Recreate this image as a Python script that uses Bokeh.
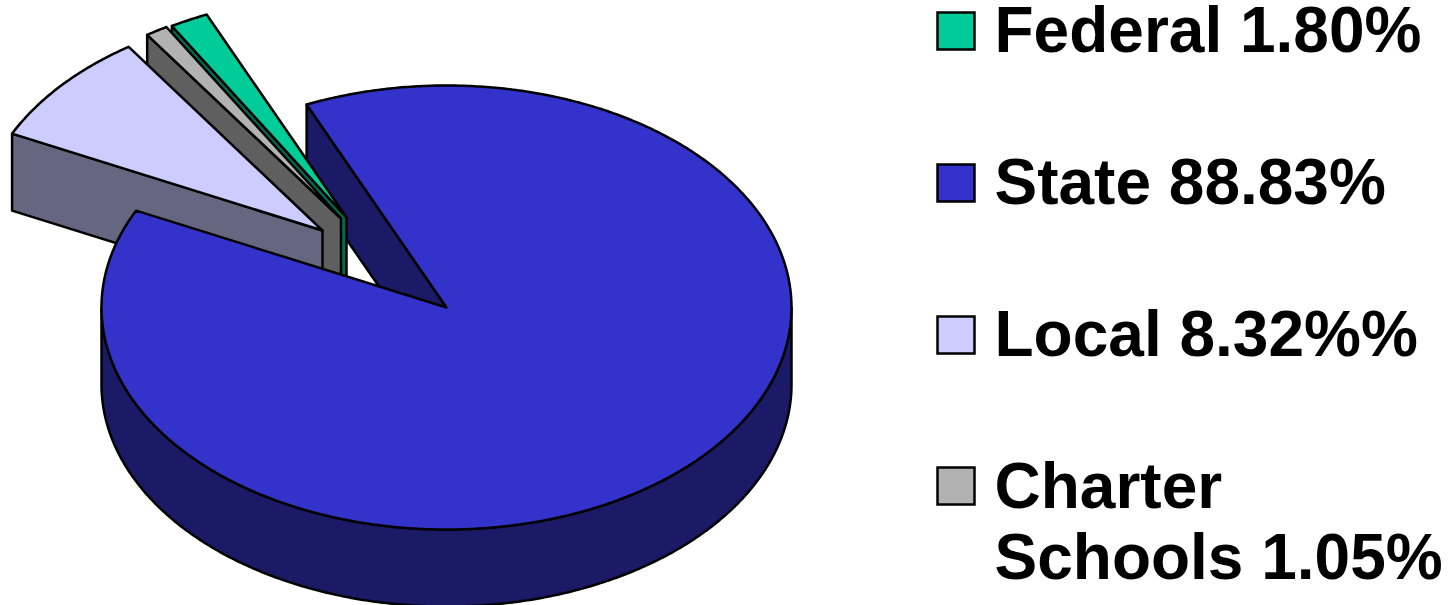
import numpy as np
from bokeh.core.properties import value
from bokeh.embed import file_html
from bokeh.models import Range1d
from bokeh.plotting import figure
from bokeh.resources import INLINE

# Revenue shares, percent
categories = ["Federal", "State", "Local", "Charter Schools"]
shares = [1.80, 88.83, 8.32, 1.05]
legend_lines = [["Federal 1.80%"], ["State 88.83%"], ["Local 8.32%%"], ["Charter", "Schools 1.05%"]]

# Colours of the top faces and the darker side walls
top_colors = ["#00CC99", "#3333CC", "#CCCCFF", "#B2B2B2"]
wall_colors = ["#006B50", "#1A1A66", "#666680", "#5F5F5F"]

# Projection of the tilted pie, in page pixels
CX, CY = 446.0, 307.0
RX, RY = 345.0, 222.0
DEPTH = 77.0
FIRST_ANGLE = -30.4  # clockwise degrees from 12 o'clock
OFFSETS = [(-100.0, -90.0), (0.0, 0.0), (-124.0, -77.0), (-105.5, -89.0)]
OUTLINE = 2.5

FONT = value("Liberation Sans")


def rim(angle, offset=(0.0, 0.0), drop=0.0):
    a = np.radians(angle)
    return CX + offset[0] + RX * np.sin(a), CY + offset[1] - RY * np.cos(a) + drop


p = figure(
    width=1450, height=605,
    x_range=Range1d(0, 1450), y_range=Range1d(605, 0),
    x_axis_location=None, y_axis_location=None,
    toolbar_location=None, output_backend="svg",
    min_border=0, outline_line_color=None, background_fill_color="white",
)
p.grid.visible = False


def face(xs, ys, color):
    p.patch(list(xs), list(ys), fill_color=color, line_color="black",
            line_width=OUTLINE, line_join="round")


def radial_wall(angle, offset, color):
    # Flat cut face of a slice, running from the rim to the pie axis
    rx, ry = rim(angle, offset)
    ax, ay = CX + offset[0], CY + offset[1]
    face([rx, ax, ax, rx], [ry, ay, ay + DEPTH, ry + DEPTH], color)


def top_face(a0, a1, offset, color):
    angles = np.linspace(a0, a1, max(int(abs(a1 - a0) * 2), 2) + 1)
    xs, ys = rim(angles, offset)
    ax, ay = CX + offset[0], CY + offset[1]
    face(np.r_[ax, xs], np.r_[ay, ys], color)


# Slice boundaries, walking clockwise through the shares
sweeps = [s / sum(shares) * 360.0 for s in shares]
bounds = [FIRST_ANGLE]
for sw in sweeps:
    bounds.append(bounds[-1] + sw)

# The State slice's opening wall sits behind the pulled-out slices
radial_wall(bounds[1], OFFSETS[1], wall_colors[1])

# Pulled-out slices, back to front: Federal, Charter, Local
radial_wall(bounds[0], OFFSETS[0], wall_colors[0])
top_face(bounds[0], bounds[1], OFFSETS[0], top_colors[0])

radial_wall(bounds[3], OFFSETS[3], wall_colors[3])
top_face(bounds[3], bounds[4], OFFSETS[3], top_colors[3])

radial_wall(bounds[2], OFFSETS[2], wall_colors[2])
top_face(bounds[2], bounds[3], OFFSETS[2], top_colors[2])

# Main State slice: curved front wall, then the top face
front = np.linspace(90.0, 270.0, 361)
fx, fy = rim(front)
bx, by = rim(front[::-1], drop=DEPTH)
face(np.r_[fx, bx], np.r_[fy, by], wall_colors[1])
top_face(bounds[1], bounds[2], OFFSETS[1], top_colors[1])

# Legend
SWATCH_X, SWATCH_SIZE = 955.5, 37.0
SWATCH_Y = [30.5, 182.5, 334.5, 485.5]
TEXT_X = 994.0
TEXT_Y = [[29.0], [181.0], [333.0], [485.0, 556.0]]

p.rect([SWATCH_X] * 4, SWATCH_Y, width=SWATCH_SIZE, height=SWATCH_SIZE,
       fill_color=top_colors, line_color="black", line_width=OUTLINE, line_join="miter")

for lines, ys in zip(legend_lines, TEXT_Y):
    p.text([TEXT_X] * len(lines), ys, text=lines,
           text_font=FONT, text_font_style="bold", text_font_size="64px",
           text_color="black", text_align="left", text_baseline="middle")

open("out.html", "w").write(file_html(p, INLINE))
